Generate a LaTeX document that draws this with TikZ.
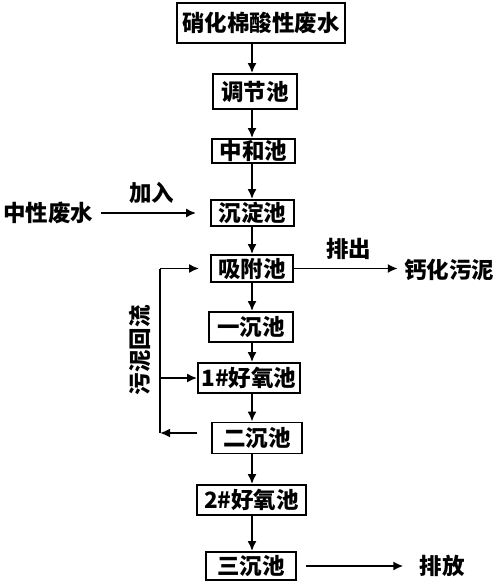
\documentclass[tikz,border=0pt]{standalone}
\usepackage{fontspec}
\newfontfamily\cjk{Noto Sans CJK SC}
\usetikzlibrary{arrows.meta,calc}
\tikzset{
  pool/.style={draw,line width=1.8pt,inner sep=0pt,minimum height=28pt},
  arr/.style={line width=1.8pt,-{Latex[length=10pt,width=9pt]}},
  lbl/.style={inner sep=0pt}
}
\begin{document}
\begin{tikzpicture}[x=1pt,y=-1pt,font=\cjk\bfseries\fontsize{22.5}{26}\selectfont]
\useasboundingbox (0,0) rectangle (500,585);
\coordinate (spine) at (252,0); % edit here for the main column
% the pools, top to bottom
\node[pool,minimum width=168pt,minimum height=40pt] (raw) at (261,23) {硝化棉酸性废水};
\node[pool,minimum width=84pt,minimum height=35pt] (tiao) at (255,91.5) {调节池};
\node[pool,minimum width=83pt,minimum height=24pt] (zhong) at (253.5,151) {中和池};
\node[pool,minimum width=83pt,minimum height=26pt] (chen) at (252.5,213) {沉淀池};
\node[pool,minimum width=82pt,minimum height=27pt] (xifu) at (252,268.5) {吸附池};
\node[pool,minimum width=84pt,minimum height=30pt] (yichen) at (251,327) {一沉池};
\node[pool,minimum width=102pt,minimum height=30pt] (haoA) at (249,378) {1\#好氧池};
\node[pool,minimum width=90pt,minimum height=31pt] (erchen) at (257,438) {二沉池};
\node[pool,minimum width=109pt,minimum height=30pt] (haoB) at (251.5,500) {2\#好氧池};
\node[pool,minimum width=90pt,minimum height=28pt] (sanchen) at (251,566) {三沉池};
% main flow
\foreach \a/\b in {raw/tiao,tiao/zhong,zhong/chen,chen/xifu,xifu/yichen,yichen/haoA,haoA/erchen,erchen/haoB,haoB/sanchen}
\draw[arr] (\a.south -| spine) -- (\b.north -| spine);
% side streams
\node[lbl] (neutral) at (48,213) {中性废水};
\draw[arr,shorten <=8pt,shorten >=14pt] (neutral.east) -- node[lbl,above=8pt] {加入} (chen.west);
\node[lbl] (sludge) at (449,270) {钙化污泥};
\draw[arr,shorten >=6pt] (xifu.east) -- node[lbl,above=8pt] {排出} (xifu.east -| sludge.west);
\node[lbl] (out) at (442,566) {排放};
\draw[arr,shorten <=9pt,shorten >=16pt] (sanchen.east) -- (out.west);
% sludge return loop
\coordinate (loopTop) at (160,268.5);
\coordinate (loopBot) at (160,433);
\draw[line width=1.8pt] (loopBot) -- (loopTop);
\draw[arr,shorten >=11pt] (loopTop) -- (xifu.west);
\draw[arr] (loopTop |- haoA) -- (haoA.west);
\draw[arr,shorten <=14pt] (erchen.west |- loopBot) -- (loopBot);
\node[lbl,rotate=90] (ret) at (140,350) {污泥回流};
\end{tikzpicture}
\end{document}
